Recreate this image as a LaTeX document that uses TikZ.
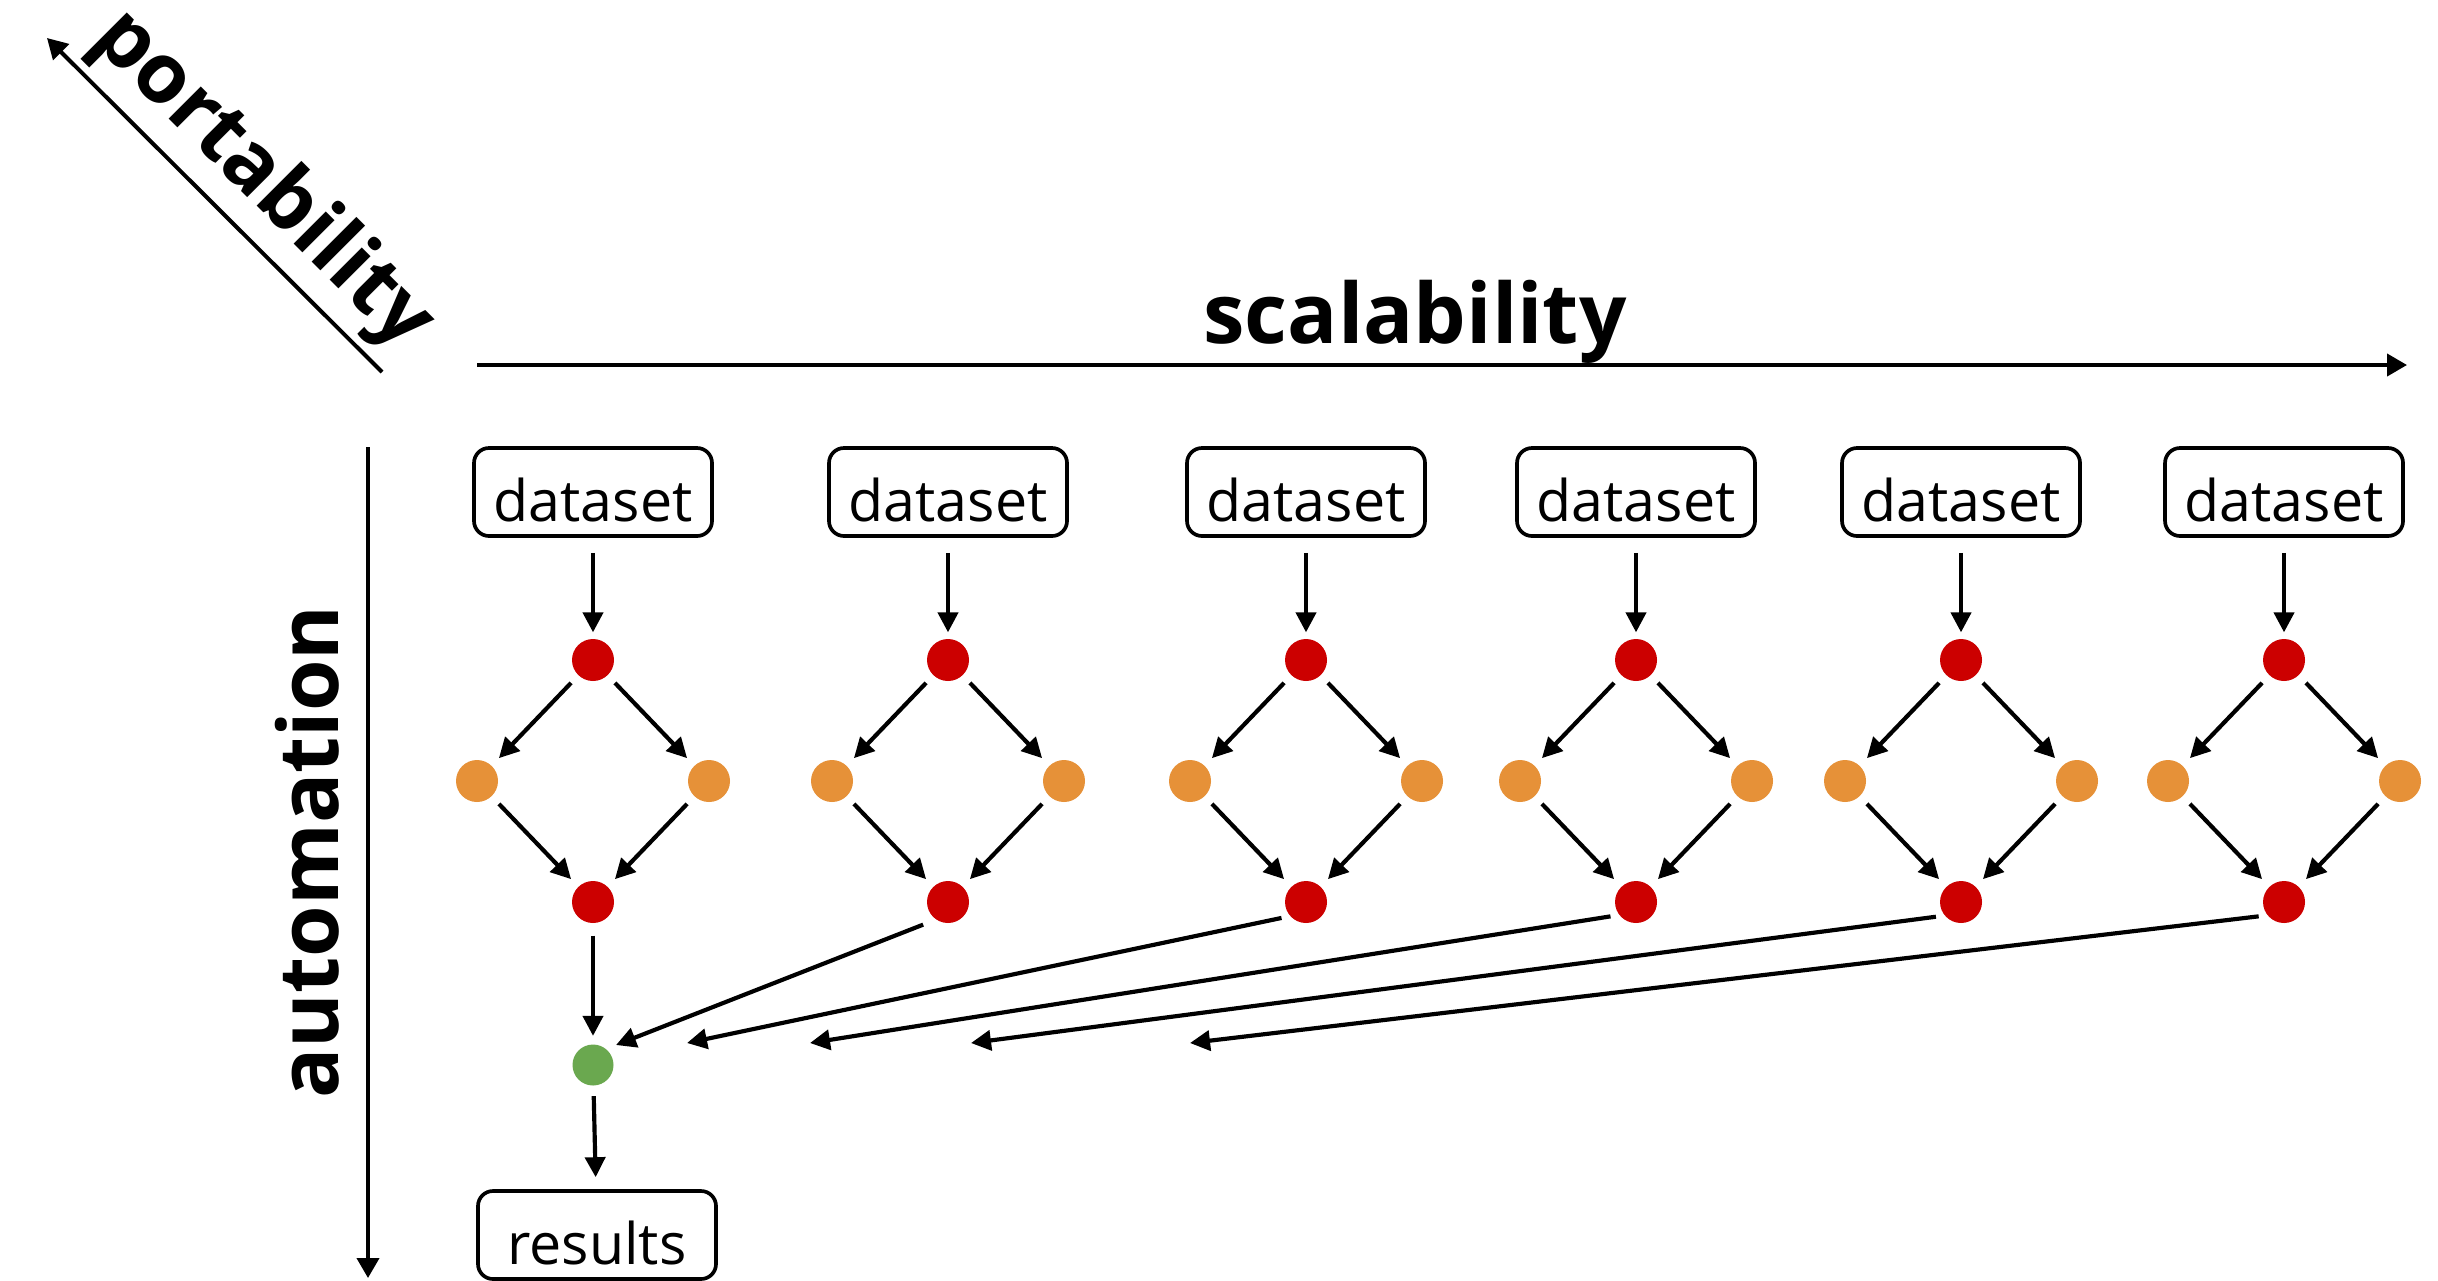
\documentclass[tikz,border=0pt]{standalone}
\usepackage{fontspec}
\setmainfont{Open Sans}
\usetikzlibrary{arrows.meta}
\definecolor{dred}{HTML}{CC0000}
\definecolor{dorange}{HTML}{E69138}
\definecolor{dgreen}{HTML}{6AA84F}
\tikzset{
  box/.style={draw, line width=1.1pt, rounded corners=4.5pt, minimum width=71.4pt,
    minimum height=26.4pt, inner sep=0pt, font=\fontsize{17.2}{18}\selectfont,
    text height=17.6pt, text depth=0pt},
  dot/.style={circle, minimum size=12.6pt, inner sep=0pt},
  rednode/.style={dot, fill=dred},
  orangenode/.style={dot, fill=dorange},
  greennode/.style={dot, fill=dgreen, minimum size=12.3pt},
  arr/.style={line width=1.25pt, -{Triangle[length=6pt,width=6pt]}},
  axisarrow/.style={line width=1.2pt, -{Triangle[length=6pt,width=6.6pt]}},
  axlabel/.style={font=\fontsize{25}{30}\selectfont\bfseries, inner sep=0pt}
}
\begin{document}
\begin{tikzpicture}[x=0.3pt,y=-0.3pt]
\useasboundingbox[fill=white] (0,0) rectangle (2438,1280);

% axes
\coordinate (sx0) at (477,365);
\coordinate (sx1) at (2407,365);
\draw[axisarrow] (sx0) -- (sx1);
\node[axlabel, anchor=base] (scal) at (1415,343) {scalability};

\coordinate (ax0) at (368,447);
\coordinate (ax1) at (368,1278);
\draw[axisarrow] (ax0) -- (ax1);
\node[axlabel, rotate=90, anchor=base] (auto) at (338,852) {automation};

\coordinate (px0) at (382,372);
\coordinate (px1) at (47,38);
\draw[axisarrow] (px0) -- (px1);
\node[axlabel, rotate=-45] (port) at (262,181) {portability};

% columns
\foreach \i/\x in {1/593,2/948,3/1306,4/1636,5/1961,6/2284}{
  \node[box] (d\i) at (\x,492) {dataset};
  \node[rednode] (t\i) at (\x,660) {};
  \node[orangenode] (l\i) at (\x-116,781) {};
  \node[orangenode] (r\i) at (\x+116,781) {};
  \node[rednode] (b\i) at (\x,902) {};
  \draw[arr, shorten <=4.5pt, shorten >=1.8pt] (d\i) -- (t\i);
  \draw[arr, shorten <=3pt, shorten >=3pt] (t\i) -- (l\i);
  \draw[arr, shorten <=3pt, shorten >=3pt] (t\i) -- (r\i);
  \draw[arr, shorten <=3pt, shorten >=3pt] (l\i) -- (b\i);
  \draw[arr, shorten <=3pt, shorten >=3pt] (r\i) -- (b\i);
}

% merge
\node[greennode] (g) at (593,1065) {};
\node[box] (res) at (597,1235) {results};
\draw[arr, shorten <=3.6pt, shorten >=2.4pt] (b1) -- (g);
\draw[arr, shorten <=3pt, shorten >=3.6pt] (g) -- (res);

\coordinate (e2) at (616,1045);
\coordinate (e3) at (687,1043);
\coordinate (e4) at (810,1043);
\coordinate (e5) at (971,1043);
\coordinate (e6) at (1190,1043);
\draw[arr, shorten <=4pt] (b2.235) -- (e2);
\draw[arr, shorten <=2.5pt] (b3.221) -- (e3);
\draw[arr, shorten <=2.5pt] (b4.217) -- (e4);
\draw[arr, shorten <=2.5pt] (b5.219) -- (e5);
\draw[arr, shorten <=2.5pt] (b6.218) -- (e6);
\end{tikzpicture}
\end{document}
